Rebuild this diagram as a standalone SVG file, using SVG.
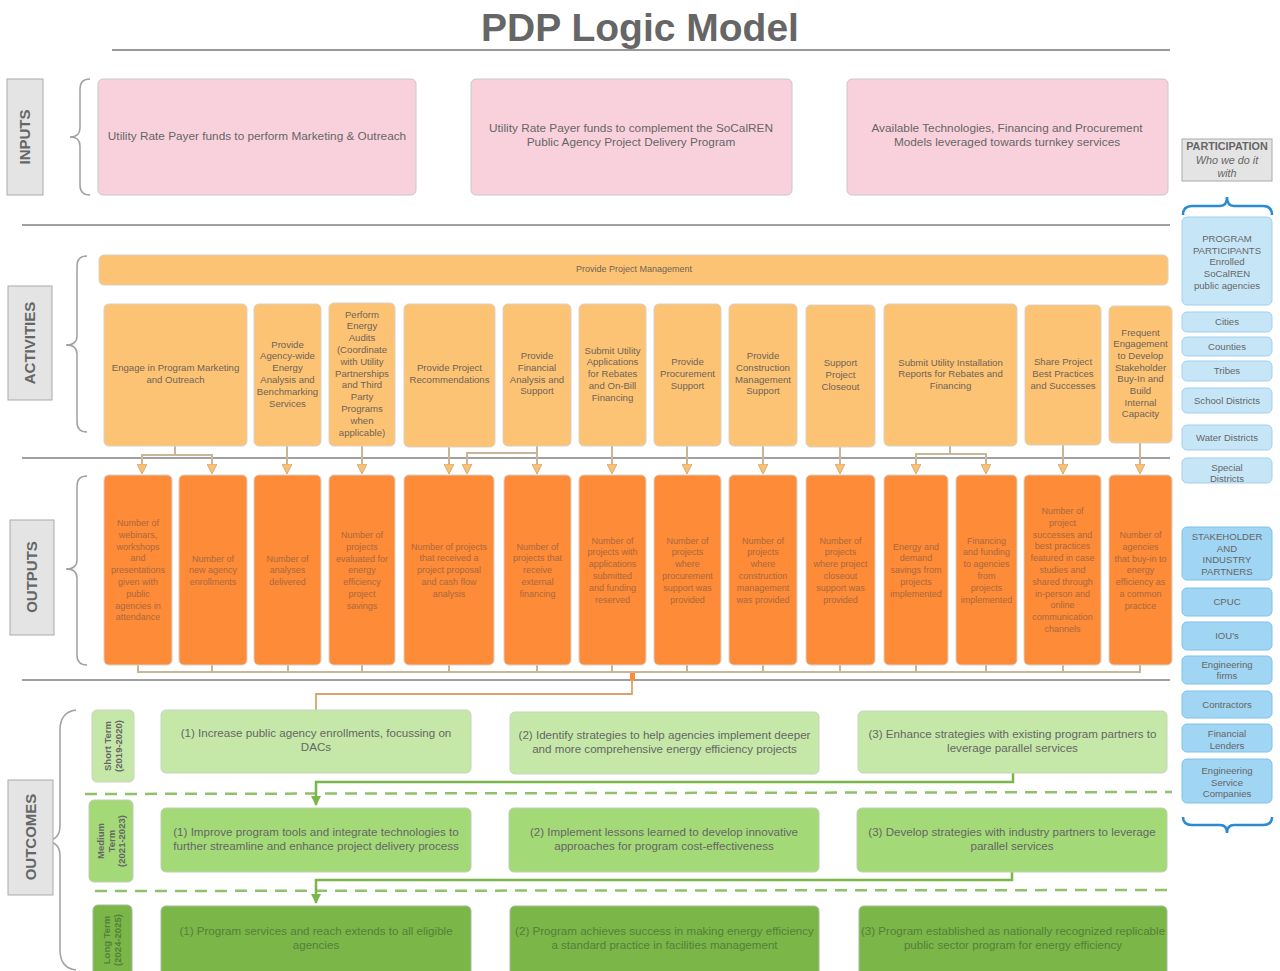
<svg xmlns="http://www.w3.org/2000/svg" width="1280" height="971" viewBox="0 0 1280 971">
<defs>
<style>
text{font-family:"Liberation Sans",Arial,sans-serif;fill:#666;text-anchor:middle}
.lbl rect{fill:#e4e4e4;stroke:#aaa;stroke-width:1}
.lbl text{font-size:15px;font-weight:bold;fill:#666}
.inp rect{fill:#f9d1dd;stroke:#c8c8c8;stroke-width:1}
.inp text{font-size:11.8px}
.act rect{fill:#fdc374;stroke:#d9d0c4;stroke-width:1}
.act text{font-size:9.6px;fill:#6f6357}
.out rect{fill:#fe8b38;stroke:#d9d0c4;stroke-width:1}
.out text{font-size:9px;fill:#a8693f}
.os rect{fill:#c5e8a8;stroke:#c8d4be;stroke-width:1}
.om rect{fill:#a3d977;stroke:#c0ceb4;stroke-width:1}
.ol rect{fill:#7ab648;stroke:#a8b89a;stroke-width:1}
.oc text{font-size:11.6px}
.ol text{fill:#567f3a}
.term text{font-size:9.5px;font-weight:bold}
.p1 rect{fill:#c6e6f8;stroke:#9fd0ee;stroke-width:1}
.p2 rect{fill:#a1d5f4;stroke:#7fc2ea;stroke-width:1}
.side text{font-size:9.6px}
.brace{fill:none;stroke:#a0a0a0;stroke-width:1.5}
.bbrace{fill:none;stroke:#2a8ad4;stroke-width:2.5}
.div{stroke:#a0a0a0;stroke-width:2}
.ac{fill:none;stroke:#c9b699;stroke-width:2}
.gc{fill:none;stroke:#7ab648;stroke-width:2.5}
.dash{stroke:#8fc06a;stroke-width:2.5;stroke-dasharray:12 8}
</style>
<marker id="ah" viewBox="0 0 10 10" refX="9" refY="5" markerWidth="5" markerHeight="5" orient="auto" markerUnits="strokeWidth">
<path d="M0,0 L10,5 L0,10 z" fill="#fcc070" stroke="#d2ad7c" stroke-width="1"/>
</marker>
<marker id="gh" viewBox="0 0 10 10" refX="9" refY="5" markerWidth="4" markerHeight="4" orient="auto" markerUnits="strokeWidth">
<path d="M0,0 L10,5 L0,10 z" fill="#7ab648"/>
</marker>
</defs>
<rect width="1280" height="971" fill="#ffffff"/>

<!-- Title -->
<g id="title">
<text x="640" y="41" style="font-size:39px;font-weight:bold;fill:#666">PDP Logic Model</text>
<line x1="112" y1="50" x2="1170" y2="50" stroke="#999" stroke-width="2"/>
</g>

<!-- Dividers & braces -->
<g id="structure">
<line class="div" x1="22" y1="225" x2="1170" y2="225"/>
<line class="div" x1="22" y1="458" x2="1170" y2="458"/>
<line class="div" x1="22" y1="680" x2="1170" y2="680"/>
<line class="dash" x1="85" y1="794" x2="1172" y2="792"/>
<line class="dash" x1="95" y1="891" x2="1172" y2="890"/>
<path class="brace" d="M90,79 Q80,79 80,89 L80,128 Q80,137 70,137 Q80,137 80,146 L80,185 Q80,195 90,195"/>
<path class="brace" d="M87,256 Q77,256 77,266 L77,336 Q77,345 66,345 Q77,345 77,354 L77,422 Q77,432 87,432"/>
<path class="brace" d="M87,476 Q77,476 77,486 L77,560 Q77,569 66,569 Q77,569 77,578 L77,655 Q77,665 87,665"/>
<path class="brace" d="M76,710 Q60,712 60,730 L60,826 Q60,840 46,841 Q60,842 60,856 L60,950 Q60,968 76,970"/>
<path class="bbrace" d="M1183,215 Q1183,206 1192,206 L1220,206 Q1227,206 1227,197 Q1227,206 1234,206 L1263,206 Q1272,206 1272,215"/>
<path class="bbrace" d="M1183,817 Q1183,825 1192,825 L1220,825 Q1227,825 1227,833 Q1227,825 1234,825 L1263,825 Q1272,825 1272,817"/>
</g>

<!-- Section labels -->
<g id="label-inputs" class="lbl"><rect x="7" y="79" width="36" height="116"/><text transform="translate(30,137) rotate(-90)">INPUTS</text></g>
<g id="label-activities" class="lbl"><rect x="8" y="286" width="44" height="114"/><text transform="translate(35,343) rotate(-90)">ACTIVITIES</text></g>
<g id="label-outputs" class="lbl"><rect x="10" y="520" width="44" height="115"/><text transform="translate(37,577) rotate(-90)">OUTPUTS</text></g>
<g id="label-outcomes" class="lbl"><rect x="8" y="780" width="45" height="115"/><text transform="translate(36,837) rotate(-90)">OUTCOMES</text></g>

<!-- Inputs -->
<g id="input-1" class="inp"><rect x="98" y="79" width="318" height="116" rx="5"/><text x="257" y="140">Utility Rate Payer funds to perform Marketing &amp; Outreach</text></g>
<g id="input-2" class="inp"><rect x="471" y="79" width="321" height="116" rx="5"/><text x="631" y="132">Utility Rate Payer funds to complement the SoCalREN<tspan x="631" dy="14">Public Agency Project Delivery Program</tspan></text></g>
<g id="input-3" class="inp"><rect x="847" y="79" width="321" height="116" rx="5"/><text x="1007" y="132">Available Technologies, Financing and Procurement<tspan x="1007" dy="14">Models leveraged towards turnkey services</tspan></text></g>

<!-- Connectors -->
<g id="connectors">
<path class="ac" d="M175,446 V455 H142 V473" marker-end="url(#ah)"/>
<path class="ac" d="M175,455 H212 V473" marker-end="url(#ah)"/>
<path class="ac" d="M287,446 V473" marker-end="url(#ah)"/>
<path class="ac" d="M362,446 V473" marker-end="url(#ah)"/>
<path class="ac" d="M449,447 V473" marker-end="url(#ah)"/>
<path class="ac" d="M537,446 V453 H467 V473" marker-end="url(#ah)"/>
<path class="ac" d="M537,453 V473" marker-end="url(#ah)"/>
<path class="ac" d="M612,446 V473" marker-end="url(#ah)"/>
<path class="ac" d="M687,446 V473" marker-end="url(#ah)"/>
<path class="ac" d="M763,446 V473" marker-end="url(#ah)"/>
<path class="ac" d="M840,447 V473" marker-end="url(#ah)"/>
<path class="ac" d="M950,446 V454 H916 V473" marker-end="url(#ah)"/>
<path class="ac" d="M950,454 H986 V473" marker-end="url(#ah)"/>
<path class="ac" d="M1063,445 V473" marker-end="url(#ah)"/>
<path class="ac" d="M1140,443 V473" marker-end="url(#ah)"/>
<path class="ac" d="M138,665 V672 H1140 V665 M212,665 V672 M288,665 V672 M362,665 V672 M449,665 V672 M537,665 V672 M612,665 V672 M687,665 V672 M763,665 V672 M840,665 V672 M916,665 V672 M986,665 V672 M1063,665 V672"/>
<rect x="630" y="673" width="5" height="8" fill="#fe8b38"/>
<path d="M632,680 V694 H316 V710" fill="none" stroke="#dca26a" stroke-width="1.8"/>
<path class="gc" d="M1013,773 V782 H316 V805" marker-end="url(#gh)"/>
<path class="gc" d="M1012,872 V880 H316 V903" marker-end="url(#gh)"/>
</g>

<!-- Activities -->
<g id="act-pm" class="act"><rect x="99" y="255" width="1069" height="30" rx="5"/><text x="634" y="272" style="font-size:9px">Provide Project Management</text></g>
<g id="act-1" class="act"><rect x="104" y="304" width="143" height="142" rx="5"/><text x="175.5" y="371">Engage in Program Marketing<tspan x="175.5" dy="11.8">and Outreach</tspan></text></g>
<g id="act-2" class="act"><rect x="254" y="304" width="67" height="142" rx="5"/><text x="287.5" y="347.5">Provide<tspan x="287.5" dy="11.8">Agency-wide</tspan><tspan x="287.5" dy="11.8">Energy</tspan><tspan x="287.5" dy="11.8">Analysis and</tspan><tspan x="287.5" dy="11.8">Benchmarking</tspan><tspan x="287.5" dy="11.8">Services</tspan></text></g>
<g id="act-3" class="act"><rect x="329" y="303" width="66" height="143" rx="5"/><text x="362" y="317.5">Perform<tspan x="362" dy="11.8">Energy</tspan><tspan x="362" dy="11.8">Audits</tspan><tspan x="362" dy="11.8">(Coordinate</tspan><tspan x="362" dy="11.8">with Utility</tspan><tspan x="362" dy="11.8">Partnerships</tspan><tspan x="362" dy="11.8">and Third</tspan><tspan x="362" dy="11.8">Party</tspan><tspan x="362" dy="11.8">Programs</tspan><tspan x="362" dy="11.8">when</tspan><tspan x="362" dy="11.8">applicable)</tspan></text></g>
<g id="act-4" class="act"><rect x="404" y="304" width="91" height="143" rx="5"/><text x="449.5" y="371">Provide Project<tspan x="449.5" dy="11.8">Recommendations</tspan></text></g>
<g id="act-5" class="act"><rect x="503" y="304" width="68" height="142" rx="5"/><text x="537" y="359">Provide<tspan x="537" dy="11.8">Financial</tspan><tspan x="537" dy="11.8">Analysis and</tspan><tspan x="537" dy="11.8">Support</tspan></text></g>
<g id="act-6" class="act"><rect x="579" y="304" width="67" height="142" rx="5"/><text x="612.5" y="353.5">Submit Utility<tspan x="612.5" dy="11.8">Applications</tspan><tspan x="612.5" dy="11.8">for Rebates</tspan><tspan x="612.5" dy="11.8">and On-Bill</tspan><tspan x="612.5" dy="11.8">Financing</tspan></text></g>
<g id="act-7" class="act"><rect x="654" y="304" width="67" height="142" rx="5"/><text x="687.5" y="365">Provide<tspan x="687.5" dy="11.8">Procurement</tspan><tspan x="687.5" dy="11.8">Support</tspan></text></g>
<g id="act-8" class="act"><rect x="729" y="304" width="68" height="142" rx="5"/><text x="763" y="359">Provide<tspan x="763" dy="11.8">Construction</tspan><tspan x="763" dy="11.8">Management</tspan><tspan x="763" dy="11.8">Support</tspan></text></g>
<g id="act-9" class="act"><rect x="806" y="305" width="69" height="142" rx="5"/><text x="840.5" y="366">Support<tspan x="840.5" dy="11.8">Project</tspan><tspan x="840.5" dy="11.8">Closeout</tspan></text></g>
<g id="act-10" class="act"><rect x="884" y="304" width="133" height="142" rx="5"/><text x="950.5" y="365.5">Submit Utility Installation<tspan x="950.5" dy="11.8">Reports for Rebates and</tspan><tspan x="950.5" dy="11.8">Financing</tspan></text></g>
<g id="act-11" class="act"><rect x="1025" y="305" width="76" height="140" rx="5"/><text x="1063" y="365">Share Project<tspan x="1063" dy="11.8">Best Practices</tspan><tspan x="1063" dy="11.8">and Successes</tspan></text></g>
<g id="act-12" class="act"><rect x="1109" y="306" width="63" height="137" rx="5"/><text x="1140.5" y="335.5">Frequent<tspan x="1140.5" dy="11.7">Engagement</tspan><tspan x="1140.5" dy="11.7">to Develop</tspan><tspan x="1140.5" dy="11.7">Stakeholder</tspan><tspan x="1140.5" dy="11.7">Buy-In and</tspan><tspan x="1140.5" dy="11.7">Build</tspan><tspan x="1140.5" dy="11.7">Internal</tspan><tspan x="1140.5" dy="11.7">Capacity</tspan></text></g>

<!-- Outputs -->
<g id="out-1" class="out"><rect x="104" y="475" width="68" height="190" rx="5"/><text x="138" y="526">Number of<tspan x="138" dy="11.8">webinars,</tspan><tspan x="138" dy="11.8">workshops</tspan><tspan x="138" dy="11.8">and</tspan><tspan x="138" dy="11.8">presentations</tspan><tspan x="138" dy="11.8">given with</tspan><tspan x="138" dy="11.8">public</tspan><tspan x="138" dy="11.8">agencies in</tspan><tspan x="138" dy="11.8">attendance</tspan></text></g>
<g id="out-2" class="out"><rect x="179" y="475" width="68" height="190" rx="5"/><text x="213" y="561.5">Number of<tspan x="213" dy="11.8">new agency</tspan><tspan x="213" dy="11.8">enrollments</tspan></text></g>
<g id="out-3" class="out"><rect x="254" y="475" width="67" height="190" rx="5"/><text x="287.5" y="561.5">Number of<tspan x="287.5" dy="11.8">analyses</tspan><tspan x="287.5" dy="11.8">delivered</tspan></text></g>
<g id="out-4" class="out"><rect x="329" y="475" width="66" height="190" rx="5"/><text x="362" y="538">Number of<tspan x="362" dy="11.8">projects</tspan><tspan x="362" dy="11.8">evaluated for</tspan><tspan x="362" dy="11.8">energy</tspan><tspan x="362" dy="11.8">efficiency</tspan><tspan x="362" dy="11.8">project</tspan><tspan x="362" dy="11.8">savings</tspan></text></g>
<g id="out-5" class="out"><rect x="404" y="475" width="90" height="190" rx="5"/><text x="449" y="549.5">Number of projects<tspan x="449" dy="11.8">that received a</tspan><tspan x="449" dy="11.8">project proposal</tspan><tspan x="449" dy="11.8">and cash flow</tspan><tspan x="449" dy="11.8">analysis</tspan></text></g>
<g id="out-6" class="out"><rect x="504" y="475" width="67" height="190" rx="5"/><text x="537.5" y="549.5">Number of<tspan x="537.5" dy="11.8">projects that</tspan><tspan x="537.5" dy="11.8">receive</tspan><tspan x="537.5" dy="11.8">external</tspan><tspan x="537.5" dy="11.8">financing</tspan></text></g>
<g id="out-7" class="out"><rect x="579" y="475" width="67" height="190" rx="5"/><text x="612.5" y="543.5">Number of<tspan x="612.5" dy="11.8">projects with</tspan><tspan x="612.5" dy="11.8">applications</tspan><tspan x="612.5" dy="11.8">submitted</tspan><tspan x="612.5" dy="11.8">and funding</tspan><tspan x="612.5" dy="11.8">reserved</tspan></text></g>
<g id="out-8" class="out"><rect x="654" y="475" width="67" height="190" rx="5"/><text x="687.5" y="543.5">Number of<tspan x="687.5" dy="11.8">projects</tspan><tspan x="687.5" dy="11.8">where</tspan><tspan x="687.5" dy="11.8">procurement</tspan><tspan x="687.5" dy="11.8">support was</tspan><tspan x="687.5" dy="11.8">provided</tspan></text></g>
<g id="out-9" class="out"><rect x="729" y="475" width="68" height="190" rx="5"/><text x="763" y="543.5">Number of<tspan x="763" dy="11.8">projects</tspan><tspan x="763" dy="11.8">where</tspan><tspan x="763" dy="11.8">construction</tspan><tspan x="763" dy="11.8">management</tspan><tspan x="763" dy="11.8">was provided</tspan></text></g>
<g id="out-10" class="out"><rect x="806" y="475" width="69" height="190" rx="5"/><text x="840.5" y="543.5">Number of<tspan x="840.5" dy="11.8">projects</tspan><tspan x="840.5" dy="11.8">where project</tspan><tspan x="840.5" dy="11.8">closeout</tspan><tspan x="840.5" dy="11.8">support was</tspan><tspan x="840.5" dy="11.8">provided</tspan></text></g>
<g id="out-11" class="out"><rect x="884" y="475" width="64" height="190" rx="5"/><text x="916" y="549.5">Energy and<tspan x="916" dy="11.8">demand</tspan><tspan x="916" dy="11.8">savings from</tspan><tspan x="916" dy="11.8">projects</tspan><tspan x="916" dy="11.8">implemented</tspan></text></g>
<g id="out-12" class="out"><rect x="956" y="475" width="61" height="190" rx="5"/><text x="986.5" y="543.5">Financing<tspan x="986.5" dy="11.8">and funding</tspan><tspan x="986.5" dy="11.8">to agencies</tspan><tspan x="986.5" dy="11.8">from</tspan><tspan x="986.5" dy="11.8">projects</tspan><tspan x="986.5" dy="11.8">implemented</tspan></text></g>
<g id="out-13" class="out"><rect x="1024" y="475" width="77" height="190" rx="5"/><text x="1062.5" y="514">Number of<tspan x="1062.5" dy="11.8">project</tspan><tspan x="1062.5" dy="11.8">successes and</tspan><tspan x="1062.5" dy="11.8">best practices</tspan><tspan x="1062.5" dy="11.8">featured in case</tspan><tspan x="1062.5" dy="11.8">studies and</tspan><tspan x="1062.5" dy="11.8">shared through</tspan><tspan x="1062.5" dy="11.8">in-person and</tspan><tspan x="1062.5" dy="11.8">online</tspan><tspan x="1062.5" dy="11.8">communication</tspan><tspan x="1062.5" dy="11.8">channels</tspan></text></g>
<g id="out-14" class="out"><rect x="1109" y="475" width="63" height="190" rx="5"/><text x="1140.5" y="538">Number of<tspan x="1140.5" dy="11.8">agencies</tspan><tspan x="1140.5" dy="11.8">that buy-in to</tspan><tspan x="1140.5" dy="11.8">energy</tspan><tspan x="1140.5" dy="11.8">efficiency as</tspan><tspan x="1140.5" dy="11.8">a common</tspan><tspan x="1140.5" dy="11.8">practice</tspan></text></g>

<!-- Outcome term labels -->
<g id="term-short" class="term os"><rect x="92" y="710" width="42" height="72" rx="5"/><text transform="translate(113,746) rotate(-90)"><tspan x="0" y="-2">Short Term</tspan><tspan x="0" y="9">(2019-2020)</tspan></text></g>
<g id="term-medium" class="term om"><rect x="89" y="800" width="44" height="82" rx="5"/><text transform="translate(111,841) rotate(-90)"><tspan x="0" y="-7">Medium</tspan><tspan x="0" y="3.5">Term</tspan><tspan x="0" y="14">(2021-2023)</tspan></text></g>
<g id="term-long" class="term ol"><rect x="93" y="905" width="39" height="72" rx="5"/><text transform="translate(112,940) rotate(-90)" style="fill:#567f3a"><tspan x="0" y="-2">Long Term</tspan><tspan x="0" y="9">(2024-2025)</tspan></text></g>

<!-- Outcomes -->
<g id="oc-s1" class="oc os"><rect x="161" y="710" width="310" height="63" rx="5"/><text x="316" y="737">(1) Increase public agency enrollments, focussing on<tspan x="316" dy="14">DACs</tspan></text></g>
<g id="oc-s2" class="oc os"><rect x="510" y="712" width="309" height="62" rx="5"/><text x="664.5" y="739">(2) Identify strategies to help agencies implement deeper<tspan x="664.5" dy="14">and more comprehensive energy efficiency projects</tspan></text></g>
<g id="oc-s3" class="oc os"><rect x="858" y="711" width="309" height="62" rx="5"/><text x="1012.5" y="738">(3) Enhance strategies with existing program partners to<tspan x="1012.5" dy="14">leverage parallel services</tspan></text></g>
<g id="oc-m1" class="oc om"><rect x="161" y="808" width="310" height="64" rx="5"/><text x="316" y="836">(1) Improve program tools and integrate technologies to<tspan x="316" dy="14">further streamline and enhance project delivery process</tspan></text></g>
<g id="oc-m2" class="oc om"><rect x="509" y="808" width="310" height="64" rx="5"/><text x="664" y="836">(2) Implement lessons learned to develop innovative<tspan x="664" dy="14">approaches for program cost-effectiveness</tspan></text></g>
<g id="oc-m3" class="oc om"><rect x="857" y="808" width="310" height="64" rx="5"/><text x="1012" y="836">(3) Develop strategies with industry partners to leverage<tspan x="1012" dy="14">parallel services</tspan></text></g>
<g id="oc-l1" class="oc ol"><rect x="161" y="906" width="310" height="70" rx="5"/><text x="316" y="935">(1) Program services and reach extends to all eligible<tspan x="316" dy="14">agencies</tspan></text></g>
<g id="oc-l2" class="oc ol"><rect x="510" y="906" width="309" height="70" rx="5"/><text x="664.5" y="935">(2) Program achieves success in making energy efficiency<tspan x="664.5" dy="14">a standard practice in facilities management</tspan></text></g>
<g id="oc-l3" class="oc ol"><rect x="859" y="906" width="308" height="70" rx="5"/><text x="1013" y="935">(3) Program established as nationally recognized replicable<tspan x="1013" dy="14">public sector program for energy efficiency</tspan></text></g>

<!-- Participation sidebar -->
<g id="participation" class="side lbl"><rect x="1182" y="139" width="90" height="42"/><text x="1227" y="150" style="font-size:10.8px;font-weight:bold">PARTICIPATION</text><text x="1227" y="164" style="font-size:10.8px;font-style:italic;font-weight:normal">Who we do it</text><text x="1227" y="177" style="font-size:10.8px;font-style:italic;font-weight:normal">with</text></g>
<g id="p-participants" class="side p1"><rect x="1182" y="217" width="90" height="88" rx="5"/><text x="1227" y="242">PROGRAM<tspan x="1227" dy="11.7">PARTICIPANTS</tspan><tspan x="1227" dy="11.7">Enrolled</tspan><tspan x="1227" dy="11.7">SoCalREN</tspan><tspan x="1227" dy="11.7">public agencies</tspan></text></g>
<g id="p-cities" class="side p1"><rect x="1182" y="312" width="90" height="20" rx="5"/><text x="1227" y="325">Cities</text></g>
<g id="p-counties" class="side p1"><rect x="1182" y="337" width="90" height="19" rx="5"/><text x="1227" y="350">Counties</text></g>
<g id="p-tribes" class="side p1"><rect x="1182" y="361" width="90" height="20" rx="5"/><text x="1227" y="374">Tribes</text></g>
<g id="p-school" class="side p1"><rect x="1182" y="388" width="90" height="25" rx="5"/><text x="1227" y="404">School Districts</text></g>
<g id="p-water" class="side p1"><rect x="1182" y="425" width="90" height="25" rx="5"/><text x="1227" y="441">Water Districts</text></g>
<g id="p-special" class="side p1"><rect x="1182" y="458" width="90" height="25" rx="5"/><text x="1227" y="471">Special<tspan x="1227" dy="11">Districts</tspan></text></g>
<g id="p-stakeholder" class="side p2"><rect x="1182" y="527" width="90" height="53" rx="5"/><text x="1227" y="540">STAKEHOLDER<tspan x="1227" dy="11.7">AND</tspan><tspan x="1227" dy="11.7">INDUSTRY</tspan><tspan x="1227" dy="11.7">PARTNERS</tspan></text></g>
<g id="p-cpuc" class="side p2"><rect x="1182" y="588" width="90" height="28" rx="5"/><text x="1227" y="605">CPUC</text></g>
<g id="p-ious" class="side p2"><rect x="1182" y="622" width="90" height="28" rx="5"/><text x="1227" y="639">IOU's</text></g>
<g id="p-engfirms" class="side p2"><rect x="1182" y="656" width="90" height="28" rx="5"/><text x="1227" y="668">Engineering<tspan x="1227" dy="11">firms</tspan></text></g>
<g id="p-contractors" class="side p2"><rect x="1182" y="691" width="90" height="27" rx="5"/><text x="1227" y="708">Contractors</text></g>
<g id="p-lenders" class="side p2"><rect x="1182" y="724" width="90" height="28" rx="5"/><text x="1227" y="737">Financial<tspan x="1227" dy="11.5">Lenders</tspan></text></g>
<g id="p-esco" class="side p2"><rect x="1182" y="759" width="90" height="44" rx="5"/><text x="1227" y="774">Engineering<tspan x="1227" dy="11.7">Service</tspan><tspan x="1227" dy="11.7">Companies</tspan></text></g>
</svg>
